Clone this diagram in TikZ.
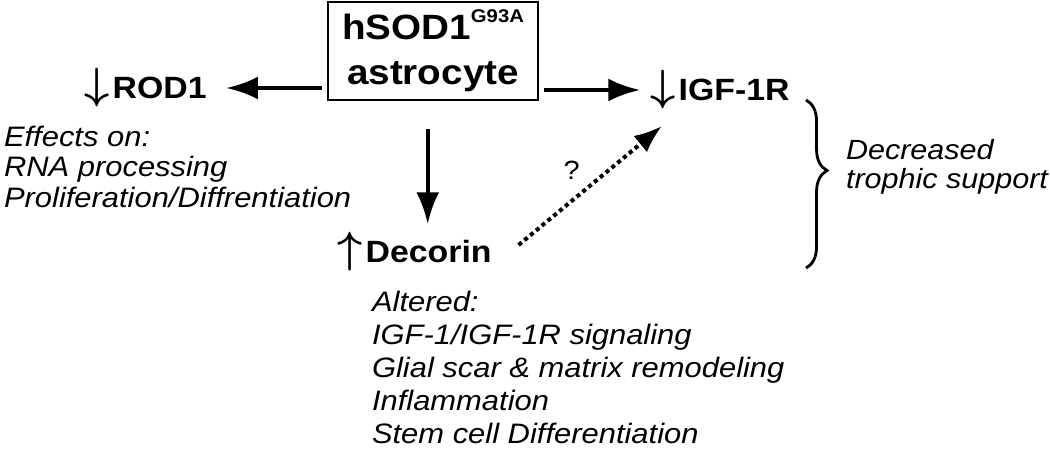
\documentclass[tikz,border=0pt]{standalone}
\usepackage{fontspec}
\setmainfont{Liberation Sans}[FakeStretch=1.1]
\usetikzlibrary{positioning,arrows.meta,decorations.pathreplacing}

\newcommand{\updown}[1]{{\fontsize{24}{24}\selectfont\boldmath$#1$\hspace{2pt}}}

\begin{document}
\begin{tikzpicture}[x=0.02cm,y=-0.02cm,->,>={Latex[length=18pt,width=13pt]},line width=2.3pt]
  \tikzstyle{gene}=[font=\fontsize{17.5}{20}\selectfont\bfseries,inner sep=0pt,text height=12.5pt,text depth=0pt,anchor=west]
  \tikzstyle{effect}=[font=\fontsize{16}{17.3}\selectfont\itshape,align=left,inner sep=0pt,anchor=base west]
  \useasboundingbox (0,0) rectangle (1050,450);

  % the astrocyte
  \node[draw,line width=1pt,align=center,minimum width=4.2cm,minimum height=1.96cm,
        font=\fontsize{20}{25.5}\selectfont\bfseries] (astro) at (433,51)
        {hSOD1\raisebox{9.6pt}{\fontsize{10.5}{12}\selectfont G93A}\\astrocyte};

  % the three genes
  \node[gene] (rod) at (82,88) {\updown{\downarrow}ROD1};
  \node[gene] (igf) at (648,90) {\updown{\downarrow}IGF-1R};
  \node[gene] (dec) at (335,252) {\updown{\uparrow}Decorin};

  \draw[shorten <=3pt,shorten >=10pt] (astro.west |- rod.east) -- (rod.east);
  \draw[shorten <=3pt,shorten >=4.5pt] (astro.east |- igf.west) -- (igf.west);
  \draw[shorten <=16pt,shorten >=8.5pt] ([xshift=-3]astro.south) -- ([xshift=-3]astro.south |- dec.north);
  \draw[dotted,line width=2.3pt,>={Latex[length=16pt,width=12pt]}] ([shift={(25,-7)}]dec.east) -- ([shift={(14,23)}]igf.south west)
    node[pos=0.37,above=11pt,font=\fontsize{15}{18}\selectfont,inner sep=0pt] (q) {?};

  % effects
  \node[effect] (rodfx) at (2,207) {Effects on:\\RNA processing\\Proliferation/Diffrentiation};
  \node[effect,font=\fontsize{16}{18.7}\selectfont\itshape] (decfx) at (370,443)
    {Altered:\\IGF-1/IGF-1R signaling\\Glial scar \& matrix remodeling\\Inflammation\\Stem cell Differentiation};

  % brace
  \draw[-,line width=1.6pt,decorate,decoration={brace,amplitude=12pt,aspect=0.42}] (806,100) -- (806,268);
  \node[effect,font=\fontsize{15.8}{16.4}\selectfont\itshape] (troph) at (844,188) {Decreased\\trophic support};
\end{tikzpicture}
\end{document}
